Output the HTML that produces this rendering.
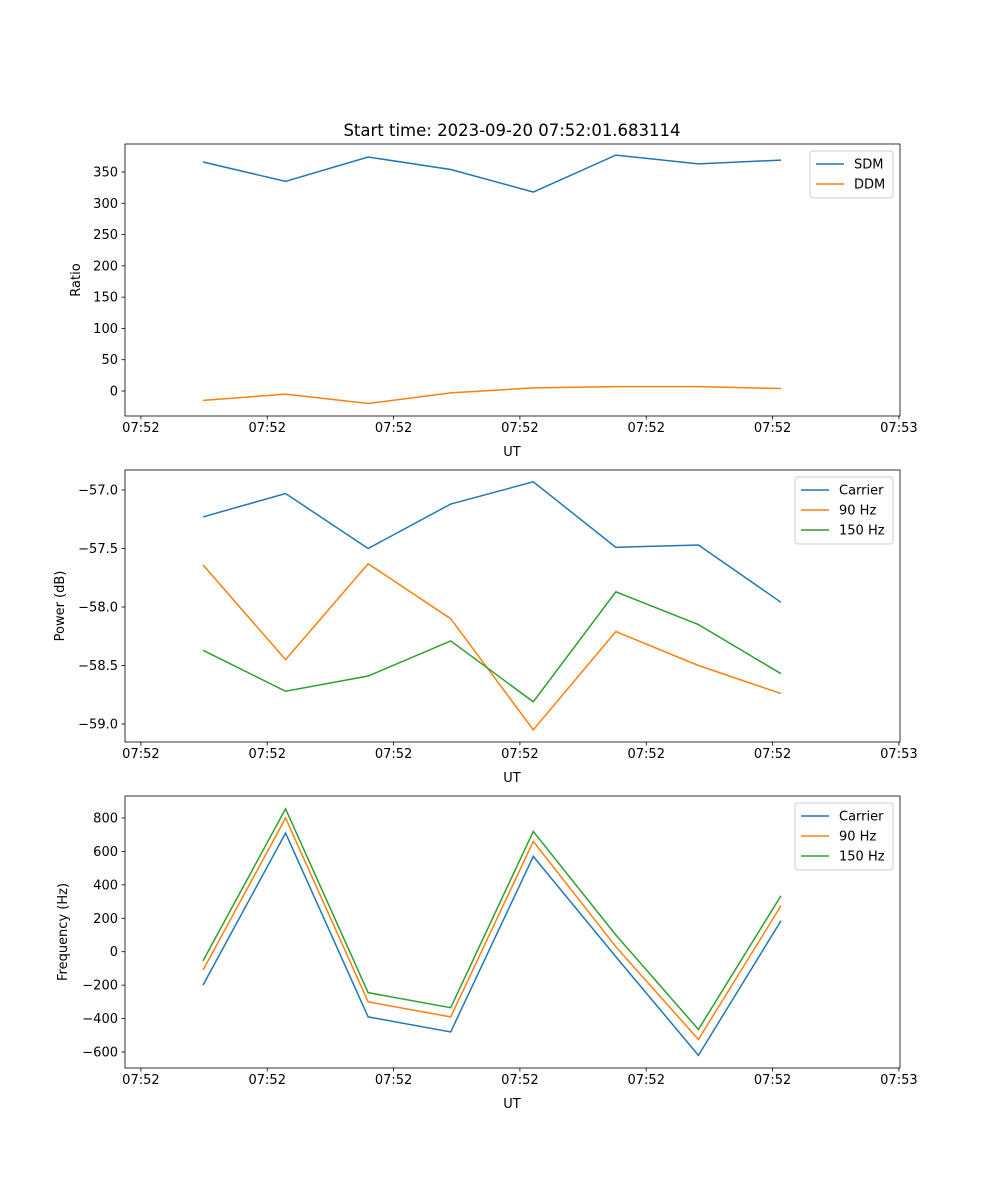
<!DOCTYPE html>
<html><head><meta charset="utf-8">
<style>
body{margin:0;background:#fff;}
svg{display:block;font-family:"DejaVu Sans","Liberation Sans",sans-serif;}
</style></head>
<body>
<svg id="fig" width="1000" height="1200">
<text x="512" y="136" font-size="16.5" text-anchor="middle">Start time: 2023-09-20 07:52:01.683114</text>
</svg>
<script>
const xTickLabels = ["07:52","07:52","07:52","07:52","07:52","07:52","07:53"];
const xTickPos = [-0.752,0.778,2.308,3.838,5.368,6.898,8.428];
const sdm = [366,335,374,354,318,377,363,369];
const ddm = [-15,-5,-20,-3,5,7,7,4];
const powCarrier = [-57.23,-57.03,-57.50,-57.12,-56.93,-57.49,-57.47,-57.96];
const pow90 = [-57.64,-58.45,-57.63,-58.10,-59.05,-58.21,-58.50,-58.74];
const pow150 = [-58.37,-58.72,-58.59,-58.29,-58.81,-57.87,-58.15,-58.57];
const freqCarrier = [-200,710,-390,-480,570,-30,-620,185];
const freq90 = [-110,800,-300,-390,660,30,-525,275];
const freq150 = [-55,855,-245,-335,720,100,-465,335];
const yTicks1 = [0,50,100,150,200,250,300,350];
const yTicks2 = [-59.0,-58.5,-58.0,-57.5,-57.0];
const yTicks3 = [-600,-400,-200,0,200,400,600,800];

const NS="http://www.w3.org/2000/svg";
const svg=document.getElementById('fig');
function mk(tag,attrs,parent){const e=document.createElementNS(NS,tag);for(const k in attrs)e.setAttribute(k,attrs[k]);(parent||svg).appendChild(e);return e;}
const xs=i=>203+(i)*82.57;
function panel(cfg){
  const g=mk('g',{});
  
  
  const top=cfg.top,bot=top+272;
  const ys=v=>cfg.y0px+(v-cfg.y0)*(cfg.y1px-cfg.y0px)/(cfg.y1-cfg.y0);
  cfg.series.forEach(s=>{
    const p=mk('polyline',{points:s.data.map((v,i)=>xs(i)+','+ys(v)).join(' '),fill:'none',stroke:s.color,'stroke-width':1.5},g);
    
    
  });
  const fr=mk('rect',{x:125,y:top,width:775,height:272,fill:'none',stroke:'#000','stroke-width':0.8},g);
  
  
  xTickPos.forEach((t,k)=>{
    const x=xs(t);
    mk('line',{x1:x,x2:x,y1:bot,y2:bot+3.5,stroke:'#000','stroke-width':0.8},g);
    const tl=mk('text',{x:x,y:bot+16,'font-size':13,'text-anchor':'middle'},g);
    tl.textContent=xTickLabels[k];
    
    
  });
  cfg.yTicks.forEach(v=>{
    const y=ys(v);
    mk('line',{x1:121.5,x2:125,y1:y,y2:y,stroke:'#000','stroke-width':0.8},g);
    const tl=mk('text',{x:118,y:y+4.5,'font-size':13,'text-anchor':'end'},g);
    tl.textContent=cfg.fmt(v);
    
    
  });
  const xl=mk('text',{x:512,y:bot+40,'font-size':13,'text-anchor':'middle'},g);
  xl.textContent='UT';
  
  
  const yl=mk('text',{x:0,y:0,'font-size':13,'text-anchor':'middle',transform:`translate(${cfg.ylx},${top+136}) rotate(-90)`},g);
  yl.textContent=cfg.ylabel;
  
  
  const n=cfg.series.length, lw=cfg.legW, lx=893-lw, ly=top+7;
  const lg=mk('g',{},g);
  
  
  mk('rect',{x:lx,y:ly,width:lw,height:n*20+7,rx:3,fill:'#fff',stroke:'#ccc','stroke-width':1},lg);
  cfg.series.forEach((s,i)=>{
    const yy=ly+13+i*20;
    mk('line',{x1:lx+6,x2:lx+34,y1:yy,y2:yy,stroke:s.color,'stroke-width':1.5},lg);
    const t=mk('text',{x:lx+44,y:yy+4.5,'font-size':13},lg);
    t.textContent=s.label;
    
    
  });
}
panel({name:'ratio-panel',top:144,y0:0,y0px:391,y1:350,y1px:172,yTicks:yTicks1,fmt:v=>String(v),ylabel:'Ratio',ylx:80,legW:83,
  series:[{key:'sdm',label:'SDM',color:'#1f77b4',data:sdm},{key:'ddm',label:'DDM',color:'#ff7f0e',data:ddm}]});
panel({name:'power-panel',top:470,y0:-57,y0px:490,y1:-59,y1px:724,yTicks:yTicks2,fmt:v=>'\u2212'+Math.abs(v).toFixed(1),ylabel:'Power (dB)',ylx:64,legW:98,
  series:[{key:'power-carrier',label:'Carrier',color:'#1f77b4',data:powCarrier},{key:'power-90hz',label:'90 Hz',color:'#ff7f0e',data:pow90},{key:'power-150hz',label:'150 Hz',color:'#2ca02c',data:pow150}]});
panel({name:'frequency-panel',top:796,y0:800,y0px:818,y1:-600,y1px:1052,yTicks:yTicks3,fmt:v=>v<0?'\u2212'+Math.abs(v):String(v),ylabel:'Frequency (Hz)',ylx:67,legW:98,
  series:[{key:'freq-carrier',label:'Carrier',color:'#1f77b4',data:freqCarrier},{key:'freq-90hz',label:'90 Hz',color:'#ff7f0e',data:freq90},{key:'freq-150hz',label:'150 Hz',color:'#2ca02c',data:freq150}]});
</script>
</body></html>
